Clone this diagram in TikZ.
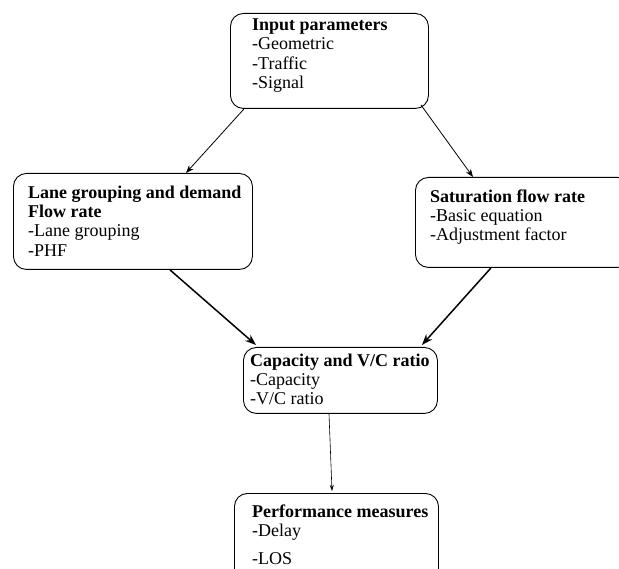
\documentclass[tikz,border=0pt]{standalone}
\usepackage{fontspec}
\setmainfont{Liberation Serif}
\usetikzlibrary{arrows.meta}

\begin{document}
\begin{tikzpicture}[x=1pt,y=-1pt,
    frame/.style={draw,rounded corners=13pt,anchor=north west,inner sep=0pt,line width=0.9pt},
    words/.style={anchor=north west,align=left,inner sep=0pt,
      font=\fontsize{18}{19.3}\selectfont,execute at begin node=\strut},
    thin/.style={-{Stealth[length=8pt,width=6pt]},line width=0.8pt},
    bold/.style={-{Stealth[length=11pt,width=8pt]},line width=1.5pt}]
  \useasboundingbox (0,0) rectangle (619,569);
  % boxes
  \node[frame,minimum width=198pt,minimum height=95pt] (inp) at (230,13) {};
  \node[frame,minimum width=239pt,minimum height=96pt] (lane) at (13,173) {};
  \node[frame,minimum width=215pt,minimum height=90pt] (sat) at (415,177) {};
  \node[frame,minimum width=194pt,minimum height=66pt] (cap) at (243,347) {};
  \node[frame,minimum width=204pt,minimum height=100pt] (perf) at (234,493) {};
  % texts
  \node[words] (inptxt) at (252,18.5) {\textbf{Input parameters}\\-Geometric\\-Traffic\\-Signal};
  \node[words] (lanetxt) at (28,185.5) {\textbf{Lane grouping and demand}\\\textbf{Flow rate}\\-Lane grouping\\-PHF};
  \node[words] (sattxt) at (430,189.5) {\textbf{Saturation flow rate}\\-Basic equation\\-Adjustment factor};
  \node[words] (captxt) at (250,353.5) {\textbf{Capacity and V/C ratio}\\-Capacity\\-V/C ratio};
  \node[words] (perftxt) at (252,504.5) {\textbf{Performance measures}\\-Delay\\[9pt]-LOS};
  % arrows
  \draw[thin] ([xshift=14pt]inp.south west) -- ([xshift=173pt]lane.north west);
  \draw[thin] ([xshift=-8pt,yshift=4pt]inp.south east) -- ([xshift=58pt]sat.north west);
  \draw[bold] ([xshift=157pt]lane.south west) -- ([xshift=13pt,yshift=2pt]cap.north west);
  \draw[bold] ([xshift=76pt]sat.south west) -- ([xshift=-16pt,yshift=2pt]cap.north east);
  \draw[-{Stealth[length=6pt,width=4pt]},line width=0.6pt] ([xshift=86pt]cap.south west) -- ([xshift=98pt,yshift=2pt]perf.north west);
\end{tikzpicture}
\end{document}
